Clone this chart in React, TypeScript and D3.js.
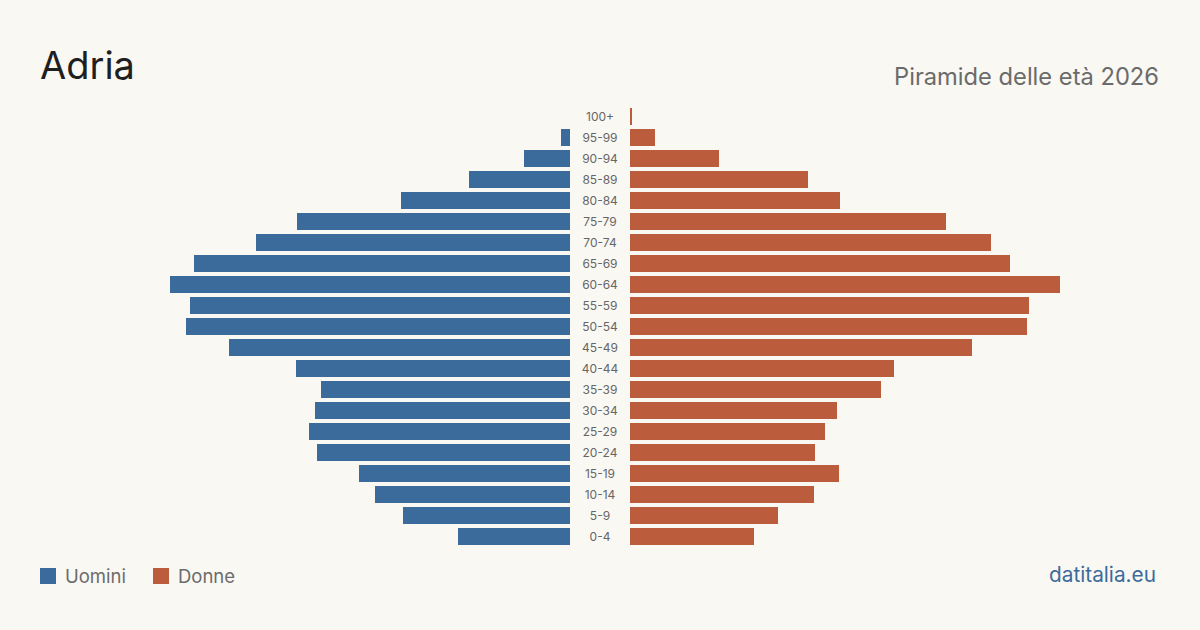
import React, { useRef, useEffect } from 'react';
import * as d3 from 'd3';

// age groups, top to bottom
const ages = [
  '100+', '95-99', '90-94', '85-89', '80-84', '75-79', '70-74', '65-69',
  '60-64', '55-59', '50-54', '45-49', '40-44', '35-39', '30-34', '25-29',
  '20-24', '15-19', '10-14', '5-9', '0-4',
];

// estimated values
const uomini = [
  0, 9, 46, 101, 169, 273, 314, 376, 400, 380, 384, 341, 274, 249, 255,
  261, 253, 211, 195, 167, 112,
];
const donne = [
  2, 25, 89, 178, 210, 316, 361, 380, 430, 399, 397, 342, 264, 251, 207,
  195, 185, 209, 184, 148, 124,
];

const W = 1200;
const H = 630;
const BG = '#faf8f3';
const BLUE = '#3b6b9b';
const ORANGE = '#bb5d3c';
const FONT = 'Inter, "Noto Sans", sans-serif';

const Pyramid: React.FC = () => {
  const svgRef = useRef<SVGSVGElement | null>(null);

  useEffect(() => {
    document.body.style.margin = '0';
    document.body.style.background = BG;
    d3.select(svgRef.current).selectAll('*').remove();

    const svg = d3.select(svgRef.current)
      .attr('width', W)
      .attr('height', H)
      .style('display', 'block')
      .style('font-family', FONT);

    svg.append('rect')
      .attr('width', W)
      .attr('height', H)
      .attr('fill', BG);

    // scales
    const y = d3.scaleBand()
      .domain(ages)
      .range([108, 545])
      .paddingInner(4 / 21)
      .paddingOuter(0);

    const maxVal = d3.max([...uomini, ...donne]) as number;
    const x = d3.scaleLinear().domain([0, maxVal]).range([0, 430]);

    const midL = 570;
    const midR = 630;

    // male bars
    svg.append('g')
      .selectAll('rect')
      .data(uomini)
      .enter()
      .append('rect')
      .attr('x', d => midL - x(d))
      .attr('y', (_, i) => y(ages[i]) as number)
      .attr('width', d => x(d))
      .attr('height', y.bandwidth())
      .attr('fill', BLUE);

    // female bars
    svg.append('g')
      .selectAll('rect')
      .data(donne)
      .enter()
      .append('rect')
      .attr('x', midR)
      .attr('y', (_, i) => y(ages[i]) as number)
      .attr('width', d => x(d))
      .attr('height', y.bandwidth())
      .attr('fill', ORANGE);

    // age labels
    svg.append('g')
      .selectAll('text')
      .data(ages)
      .enter()
      .append('text')
      .attr('x', 600)
      .attr('y', d => (y(d) as number) + y.bandwidth() / 2)
      .attr('dy', '0.35em')
      .attr('text-anchor', 'middle')
      .attr('font-size', 12)
      .attr('fill', '#666')
      .text(d => d);

    // titles
    svg.append('text')
      .attr('x', 40)
      .attr('y', 79)
      .attr('font-size', 38)
      .attr('fill', '#1f1f1f')
      .text('Adria');

    svg.append('text')
      .attr('x', 1159)
      .attr('y', 85)
      .attr('text-anchor', 'end')
      .attr('font-size', 23.7)
      .attr('fill', '#6b6b6b')
      .text('Piramide delle età 2026');

    // legend
    const legend = [
      { label: 'Uomini', color: BLUE, x: 40 },
      { label: 'Donne', color: ORANGE, x: 153 },
    ];
    const lg = svg.append('g');
    legend.forEach(l => {
      lg.append('rect')
        .attr('x', l.x)
        .attr('y', 568)
        .attr('width', 16)
        .attr('height', 16)
        .attr('fill', l.color);
      lg.append('text')
        .attr('x', l.x + 25)
        .attr('y', 583)
        .attr('font-size', 18.5)
        .attr('fill', '#6b6b6b')
        .text(l.label);
    });

    svg.append('text')
      .attr('x', 1156)
      .attr('y', 582)
      .attr('text-anchor', 'end')
      .attr('font-size', 20.8)
      .attr('fill', BLUE)
      .text('datitalia.eu');
  }, []);

  return <svg ref={svgRef}></svg>;
};

export default function App() {
  return (
    <div>
      <Pyramid />
    </div>
  );
}
